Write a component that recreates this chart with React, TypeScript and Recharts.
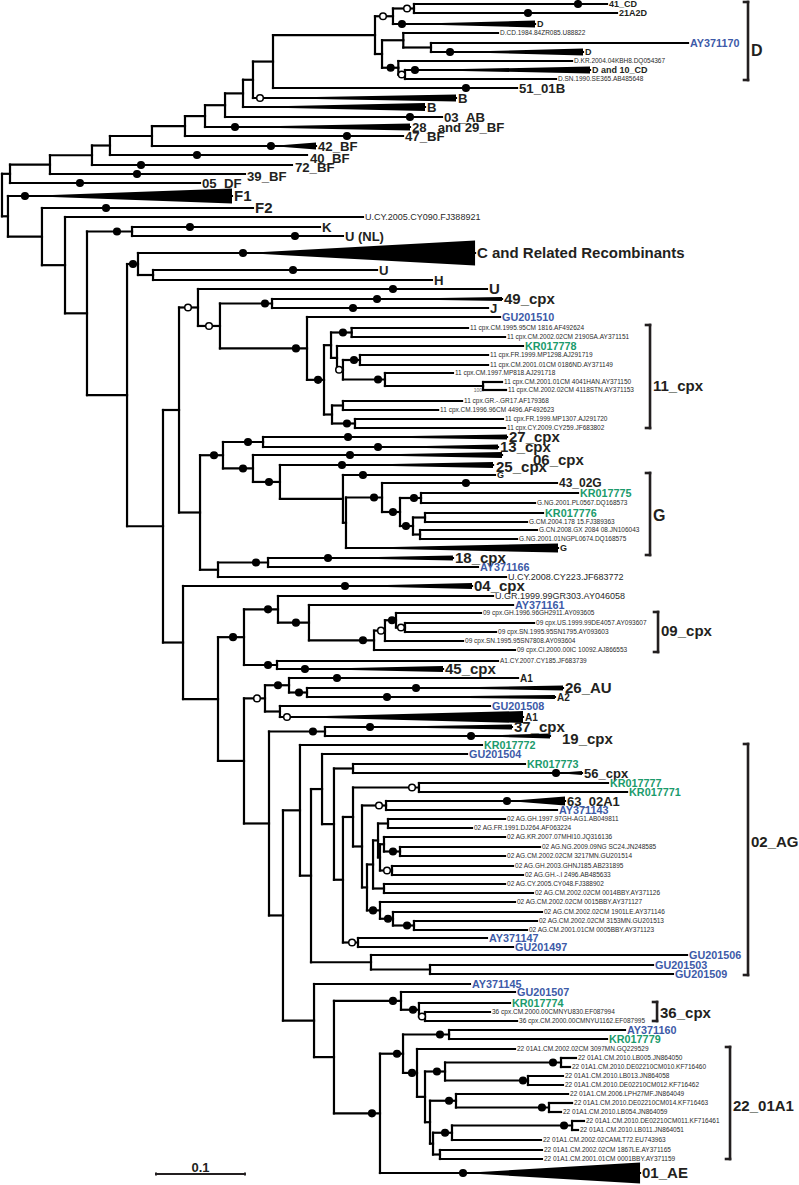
import React from 'react';
import { ScatterChart, XAxis, YAxis, Scatter, ReferenceLine, ReferenceArea } from 'recharts';

// Branch depths are in 10^-3 substitutions/site (scale bar 0.1 = 100). Rows are tip positions.
// Internal nodes: [id, parent, depth, support marker depth, marker type f=filled o=open]
const internalNodes: [string, string, number, number | null, string][] = [
  ['R', '', 0, null, ''],
  ['n10', 'R', 9.0, null, ''],
  ['n50', 'n10', 53.9, null, ''],
  ['n92', 'n50', 101.1, null, ''],
  ['n110', 'n92', 121.3, null, ''],
  ['n152', 'n110', 168.5, null, ''],
  ['n185', 'n152', 205.6, null, ''],
  ['n205', 'n185', 228.1, null, ''],
  ['n225', 'n205', 250.6, null, ''],
  ['n243', 'n225', 270.8, null, ''],
  ['n253', 'n243', 282.0, null, ''],
  ['n273', 'n253', 304.5, null, ''],
  ['nD0', 'n273', 419.1, null, ''],
  ['nD1', 'nD0', 439.3, 428.1, 'o'],
  ['nD2', 'nD1', 462.9, 455.1, 'o'],
  ['nD3', 'nD0', 427.0, null, ''],
  ['nD4', 'nD3', 450.9, null, ''],
  ['nD5', 'nD4', 482.0, null, ''],
  ['nD6', 'nD3', 445.3, 436.7, 'f'],
  ['nD7', 'nD6', 452.8, 449.1, 'o'],
  ['n8', 'R', 6.7, null, ''],
  ['n42', 'n8', 44.9, null, ''],
  ['n65', 'n42', 70.8, null, ''],
  ['n87', 'n65', 95.5, null, ''],
  ['nK', 'n87', 146.1, 129.2, 'f'],
  ['n127', 'n87', 140.5, null, ''],
  ['n138', 'n127', 152.8, 147.2, 'f'],
  ['n153', 'n138', 169.7, null, ''],
  ['n163', 'n127', 180.9, null, ''],
  ['n179', 'n163', 198.9, null, ''],
  ['n198', 'n179', 220.2, 209.0, 'o'],
  ['n220', 'n198', 244.9, 232.6, 'o'],
  ['n272', 'n220', 303.4, 295.5, 'f'],
  ['n307', 'n220', 342.7, 330.3, 'f'],
  ['n324', 'n307', 361.8, 355.1, 'f'],
  ['n331', 'n324', 369.7, null, ''],
  ['n351', 'n331', 392.9, 383.1, 'f'],
  ['n337', 'n331', 376.4, null, ''],
  ['n343a', 'n337', 383.1, 378.7, 'o'],
  ['n360', 'n343a', 402.2, 395.5, 'f'],
  ['n385', 'n343a', 430.3, 422.5, 'f'],
  ['n483', 'n385', 540.5, null, ''],
  ['n332', 'n324', 370.8, null, ''],
  ['n343b', 'n332', 383.1, null, ''],
  ['n355', 'n332', 396.6, 387.6, 'f'],
  ['n200', 'n179', 222.5, null, ''],
  ['n223', 'n200', 248.3, 238.2, 'f'],
  ['n263', 'n223', 293.3, 276.4, 'f'],
  ['n253b', 'n223', 282.0, 270.8, 'f'],
  ['n280', 'n253b', 312.3, 300.0, 'f'],
  ['nG0', 'n280', 383.1, null, ''],
  ['nG1', 'nG0', 386.5, null, ''],
  ['nG2', 'nG1', 427.0, 418.0, 'f'],
  ['nG3', 'nG2', 447.2, 439.3, 'f'],
  ['nG4', 'nG3', 470.8, 462.9, 'f'],
  ['nG5', 'nG3', 461.8, 453.9, 'f'],
  ['nG6', 'nG5', 475.3, null, ''],
  ['nG7', 'nG5', 469.7, null, ''],
  ['n218a', 'n200', 242.7, null, ''],
  ['n268', 'n218a', 298.9, 285.4, 'f'],
  ['n183', 'n163', 203.4, null, ''],
  ['n218b', 'n183', 242.7, null, ''],
  ['n245', 'n218b', 271.9, 259.6, 'f'],
  ['n278', 'n245', 310.1, 298.9, 'f'],
  ['n309', 'n278', 344.9, 330.3, 'f'],
  ['n374', 'n309', 418.0, 405.6, 'f'],
  ['n385b', 'n374', 430.3, 425.8, 'o'],
  ['n396', 'n385b', 442.7, 438.2, 'f'],
  ['n405', 'n396', 452.8, 448.3, 'o'],
  ['n277', 'n245', 309.0, 298.9, 'f'],
  ['n244', 'n218b', 271.9, null, ''],
  ['n266', 'n244', 295.5, 286.5, 'o'],
  ['n289', 'n266', 322.5, 310.1, 'f'],
  ['n307b', 'n289', 342.7, 333.7, 'f'],
  ['n280b', 'n266', 312.3, null, ''],
  ['n269', 'n244', 300.0, null, ''],
  ['n325', 'n269', 362.9, 349.4, 'f'],
  ['n283', 'n269', 315.7, null, ''],
  ['n300', 'n283', 334.8, null, ''],
  ['n311', 'n300', 347.2, null, ''],
  ['n322', 'n311', 359.6, null, ''],
  ['n334', 'n322', 373.0, null, ''],
  ['n353a', 'n334', 394.4, null, ''],
  ['n343c', 'n334', 383.1, null, ''],
  ['n353b', 'n343c', 394.4, null, ''],
  ['n419', 'n353b', 468.5, 460.7, 'o'],
  ['n362', 'n353b', 404.5, null, ''],
  ['n386', 'n362', 431.5, 423.6, 'o'],
  ['n367', 'n362', 410.1, null, ''],
  ['n373', 'n367', 416.9, null, ''],
  ['n378', 'n373', 422.5, null, ''],
  ['n388', 'n378', 433.7, null, ''],
  ['n380c', 'n378', 424.7, null, ''],
  ['n384a', 'n380c', 429.2, null, ''],
  ['n400', 'n384a', 447.2, 439.3, 'f'],
  ['n392', 'n380c', 438.2, 432.6, 'o'],
  ['n384b', 'n373', 429.2, null, ''],
  ['n380d', 'n367', 424.7, 416.9, 'f'],
  ['n393', 'n380d', 439.3, 433.7, 'f'],
  ['n414', 'n393', 462.9, 455.1, 'f'],
  ['n358', 'n343c', 400.0, 393.3, 'o'],
  ['n371', 'n311', 414.6, null, ''],
  ['n430', 'n371', 480.9, null, ''],
  ['n314', 'n283', 350.6, null, ''],
  ['n334b', 'n314', 373.0, null, ''],
  ['n401', 'n334b', 448.3, 439.3, 'f'],
  ['n419b', 'n401', 468.5, 461.8, 'f'],
  ['n425', 'n419b', 475.3, 471.9, 'o'],
  ['n380e', 'n334b', 424.7, 415.7, 'f'],
  ['n403', 'n380e', 450.6, 443.8, 'f'],
  ['n449', 'n403', 502.3, 492.1, 'f'],
  ['n417', 'n403', 466.3, 460.7, 'f'],
  ['n425b', 'n417', 475.3, null, ''],
  ['n445', 'n425b', 497.8, 488.7, 'f'],
  ['n561', 'n445', 628.1, 619.1, 'f'],
  ['n528', 'n445', 591.0, 585.4, 'f'],
  ['n430b', 'n425b', 480.9, null, ''],
  ['n456', 'n430b', 510.1, 502.3, 'f'],
  ['n549', 'n456', 614.6, 606.7, 'f'],
  ['n433', 'n430b', 484.3, null, ''],
  ['n452', 'n433', 505.6, 497.8, 'f'],
  ['n572', 'n452', 640.5, 631.5, 'f'],
  ['n440', 'n433', 492.1, null, ''],
];

// Tips: [label, parent, row, tip depth, marker depth, marker type, collapsed-clade start, clade half height (rows), label style]
const tips: [string, string, number, number, number | null, string, number | null, number, string][] = [
  ['41_CD', 'nD2', 4, 679.8, 647.2, 'f', null, 0, 'xxs'],
  ['21A2D', 'nD2', 13, 691.0, 591.0, 'f', null, 0, 'xxs'],
  ['D', 'nD1', 24, 598.9, 449.4, 'f', 449.4, 3.5, 'xxs'],
  ['D.CD.1984.84ZR085.U88822', 'nD4', 33, 557.3, null, '', null, 0, 'q'],
  ['AY371170', 'nD5', 43, 770.8, null, '', null, 0, 'b'],
  ['D', 'nD5', 52, 652.8, 503.4, 'f', 503.4, 3.5, 'xxs'],
  ['D.KR.2004.04KBH8.DQ054367', 'nD6', 61, 640.5, null, '', null, 0, 'q'],
  ['D and 10_CD', 'nD7', 70, 660.7, 464.0, 'f', 464.0, 3.5, 'xxs'],
  ['D.SN.1990.SE365.AB485648', 'nD7', 79, 622.5, null, '', null, 0, 'q'],
  ['51_01B', 'n273', 88, 578.7, 521.3, 'f', null, 0, 'l'],
  ['B', 'n253', 98, 510.1, 289.9, 'o', 289.9, 3.5, 'l'],
  ['B', 'n243', 107, 475.3, null, '', 270.8, 4, 'l'],
  ['03_AB', 'n225', 117, 494.4, 458.4, 'f', null, 0, 'l'],
  ['28_ and 29_BF', 'n205', 127, 458.4, 261.8, 'f', 261.8, 3.5, 'l'],
  ['47_BF', 'n185', 136, 450.6, 387.6, 'f', null, 0, 'l'],
  ['42_BF', 'n152', 146, 352.8, 302.2, 'f', 302.2, 3.5, 'l'],
  ['40_BF', 'n110', 155, 342.7, 219.1, 'f', null, 0, 'l'],
  ['72_BF', 'n92', 165, 325.8, 156.2, 'f', null, 0, 'l'],
  ['39_BF', 'n50', 174, 273.0, 151.7, 'f', null, 0, 'l'],
  ['05_DF', 'n10', 183, 222.5, 87.6, 'f', null, 0, 'l'],
  ['F1', 'n8', 196, 258.4, 25.8, 'f', 25.8, 7.5, 'xl'],
  ['F2', 'n42', 208, 282.0, 116.9, 'f', null, 0, 'xl'],
  ['U.CY.2005.CY090.FJ388921', 'n65', 217, 405.6, null, '', null, 0, 'u'],
  ['K', 'nK', 227, 357.3, 211.2, 'f', null, 0, 'l'],
  ['U (NL)', 'nK', 236, 383.1, 329.2, 'f', null, 0, 'm'],
  ['C and Related Recombinants', 'n138', 253, 531.5, 270.8, 'f', 270.8, 12.5, 'xl'],
  ['U', 'n153', 270, 421.4, 327.0, 'f', null, 0, 'l'],
  ['H', 'n153', 280, 483.1, null, '', null, 0, 'l'],
  ['U', 'n198', 289, 544.9, 439.3, 'f', null, 0, 'xl'],
  ['49_cpx', 'n272', 299, 561.8, 421.4, 'f', 421.4, 2, 'xl'],
  ['J', 'n272', 308, 546.1, 394.4, 'f', null, 0, 'l'],
  ['GU201510', 'n307', 317, 559.6, null, '', null, 0, 'b'],
  ['11 cpx.CM.1995.95CM 1816.AF492624', 'n351', 328, 523.6, null, '', null, 0, 'q'],
  ['11 cpx.CM.2002.02CM 2190SA.AY371151', 'n351', 337, 565.2, null, '', null, 0, 'q'],
  ['KR017778', 'n337', 346, 585.4, null, '', null, 0, 'g'],
  ['11 cpx.FR.1999.MP1298.AJ291719', 'n360', 355, 546.1, null, '', null, 0, 'q'],
  ['11 cpx.CM.2001.01CM 0186ND.AY371149', 'n360', 365, 546.1, null, '', null, 0, 'q'],
  ['11 cpx.CM.1997.MP818.AJ291718', 'n385', 373, 506.7, null, '', null, 0, 'q'],
  ['11 cpx.CM.2001.01CM 4041HAN.AY371150', 'n483', 382, 561.8, null, '', null, 0, 'q'],
  ['11 cpx.CM.2002.02CM 4118STN.AY371153', 'n483', 390, 566.3, null, '', null, 0, 'q'],
  ['11 cpx.GR.-.GR17.AF179368', 'n343b', 401, 516.9, null, '', null, 0, 'q'],
  ['11 cpx.CM.1996.96CM 4496.AF492623', 'n343b', 410, 490.0, null, '', null, 0, 'q'],
  ['11 cpx.FR.1999.MP1307.AJ291720', 'n355', 419, 562.9, null, '', null, 0, 'q'],
  ['11 cpx.CY.2009.CY259.JF683802', 'n355', 428, 565.2, null, '', null, 0, 'q'],
  ['27_cpx', 'n263', 437, 567.4, 388.8, 'f', 388.8, 2.5, 'xl'],
  ['13_cpx', 'n263', 447, 557.3, 422.5, 'f', 422.5, 2.5, 'xl'],
  ['06_cpx', 'n253b', 455, 561.8, 391.0, 'f', 391.0, 3, 'xl'],
  ['25_cpx', 'n280', 465, 551.7, 382.0, 'f', 382.0, 3, 'xl'],
  ['G', 'nG0', 475, 553.9, 405.6, 'f', null, 0, 'xxs'],
  ['43_02G', 'nG2', 483, 623.6, 521.3, 'f', null, 0, 's'],
  ['KR017775', 'nG4', 493, 647.2, null, '', null, 0, 'g'],
  ['G.NG.2001.PL0567.DQ168573', 'nG4', 503, 598.9, null, '', null, 0, 'q'],
  ['KR017776', 'nG6', 513, 607.9, null, '', null, 0, 'g'],
  ['G.CM.2004.178 15.FJ389363', 'nG6', 522, 589.9, null, '', null, 0, 'q'],
  ['G.CN.2008.GX 2084 08.JN106043', 'nG7', 530, 601.1, null, '', null, 0, 'q'],
  ['G.NG.2001.01NGPL0674.DQ168575', 'nG7', 539, 578.7, null, '', null, 0, 'q'],
  ['G', 'nG1', 548, 624.7, null, '', 386.5, 4.5, 'xxs'],
  ['18_cpx', 'n268', 558, 506.7, 366.3, 'f', 366.3, 2.5, 'xl'],
  ['AY371166', 'n268', 567, 534.8, null, '', null, 0, 'b'],
  ['U.CY.2008.CY223.JF683772', 'n218a', 577, 566.3, null, '', null, 0, 'u'],
  ['04_cpx', 'n183', 586, 528.1, 385.4, 'f', 385.4, 3, 'xl'],
  ['U.GR.1999.99GR303.AY046058', 'n278', 596, 551.7, null, '', null, 0, 'u'],
  ['AY371161', 'n309', 605, 574.2, null, '', null, 0, 'b'],
  ['09 cpx.GH.1996.96GH2911.AY093605', 'n396', 613, 538.2, null, '', null, 0, 'q'],
  ['09 cpx.US.1999.99DE4057.AY093607', 'n405', 623, 597.8, null, '', null, 0, 'q'],
  ['09 cpx.SN.1995.95SN1795.AY093603', 'n405', 632, 555.1, null, '', null, 0, 'q'],
  ['09 cpx.SN.1995.95SN7808.AY093604', 'n385b', 641, 518.0, null, '', null, 0, 'q'],
  ['09 cpx.CI.2000.00IC 10092.AJ866553', 'n374', 650, 576.4, null, '', null, 0, 'q'],
  ['A1.CY.2007.CY185.JF683739', 'n277', 661, 557.3, null, '', null, 0, 'q'],
  ['45_cpx', 'n277', 669, 495.5, 340.4, 'f', 340.4, 3, 'xl'],
  ['A1', 'n289', 678, 579.8, 376.4, 'f', null, 0, 'xs'],
  ['26_AU', 'n307b', 688, 630.3, 465.2, 'f', 465.2, 2.5, 'xl'],
  ['A2', 'n307b', 697, 621.3, 432.6, 'f', 432.6, 2, 'xs'],
  ['GU201508', 'n280b', 706, 548.3, null, '', null, 0, 'b'],
  ['A1', 'n280b', 717, 585.4, 320.2, 'o', 320.2, 6, 'xs'],
  ['37_cpx', 'n325', 727, 573.0, 413.5, 'f', 413.5, 2.5, 'xl'],
  ['19_cpx', 'n325', 736, 615.7, 527.0, 'f', 527.0, 2.5, 'xl'],
  ['KR017772', 'n300', 745, 539.3, null, '', null, 0, 'g'],
  ['GU201504', 'n322', 754, 522.5, null, '', null, 0, 'b'],
  ['KR017773', 'n353a', 764, 587.6, null, '', null, 0, 'g'],
  ['56_cpx', 'n353a', 773, 651.7, 622.5, 'f', 622.5, 2, 'm'],
  ['KR017777', 'n419', 783, 680.9, null, '', null, 0, 'g'],
  ['KR017771', 'n419', 792, 702.3, null, '', null, 0, 'g'],
  ['63_02A1', 'n386', 801, 632.6, 567.4, 'f', 567.4, 4.5, 'm'],
  ['AY371143', 'n386', 810, 623.6, null, '', null, 0, 'b'],
  ['02 AG.GH.1997.97GH-AG1.AB049811', 'n388', 819, 565.2, null, '', null, 0, 'q'],
  ['02 AG.FR.1991.DJ264.AF063224', 'n388', 828, 528.1, null, '', null, 0, 'q'],
  ['02 AG.KR.2007.07MHI10.JQ316136', 'n384a', 837, 565.2, null, '', null, 0, 'q'],
  ['02 AG.NG.2009.09NG SC24.JN248585', 'n400', 847, 604.5, null, '', null, 0, 'q'],
  ['02 AG.CM.2002.02CM 3217MN.GU201514', 'n400', 856, 565.2, null, '', null, 0, 'q'],
  ['02 AG.GH.2003.GHNJ185.AB231895', 'n392', 866, 574.2, null, '', null, 0, 'q'],
  ['02 AG.GH.-.I 2496.AB485633', 'n392', 875, 585.4, null, '', null, 0, 'q'],
  ['02 AG.CY.2005.CY048.FJ388902', 'n384b', 884, 565.2, null, '', null, 0, 'q'],
  ['02 AG.CM.2002.02CM 0014BBY.AY371126', 'n384b', 893, 596.6, null, '', null, 0, 'q'],
  ['02 AG.CM.2002.02CM 0015BBY.AY371127', 'n380d', 902, 576.4, null, '', null, 0, 'q'],
  ['02 AG.CM.2002.02CM 1901LE.AY371146', 'n393', 912, 606.7, null, '', null, 0, 'q'],
  ['02 AG.CM.2002.02CM 3153MN.GU201513', 'n414', 921, 601.1, null, '', null, 0, 'q'],
  ['02 AG.CM.2001.01CM 0005BBY.AY371123', 'n414', 930, 589.9, null, '', null, 0, 'q'],
  ['AY371147', 'n358', 938, 544.9, null, '', null, 0, 'b'],
  ['GU201497', 'n358', 947, 574.2, null, '', null, 0, 'b'],
  ['GU201506', 'n371', 955, 769.7, null, '', null, 0, 'b'],
  ['GU201503', 'n430', 965, 731.5, null, '', null, 0, 'b'],
  ['GU201509', 'n430', 974, 753.9, null, '', null, 0, 'b'],
  ['AY371145', 'n314', 984, 525.8, null, '', null, 0, 'b'],
  ['GU201507', 'n401', 992, 576.4, null, '', null, 0, 'b'],
  ['KR017774', 'n419b', 1003, 570.8, null, '', null, 0, 'g'],
  ['36 cpx.CM.2000.00CMNYU830.EF087994', 'n425', 1012, 548.3, null, '', null, 0, 'q'],
  ['36 cpx.CM.2000.00CMNYU1162.EF087995', 'n425', 1021, 578.7, null, '', null, 0, 'q'],
  ['AY371160', 'n449', 1030, 700.0, null, '', null, 0, 'b'],
  ['KR017779', 'n449', 1039, 679.8, null, '', null, 0, 'g'],
  ['22 01A1.CM.2002.02CM 3097MN.GQ229529', 'n417', 1049, 576.4, null, '', null, 0, 'q'],
  ['22 01A1.CM.2010.LB005.JN864050', 'n561', 1058, 644.9, null, '', null, 0, 'q'],
  ['22 01A1.CM.2010.DE02210CM010.KF716460', 'n561', 1067, 638.2, null, '', null, 0, 'q'],
  ['22 01A1.CM.2010.LB013.JN864058', 'n528', 1076, 630.3, null, '', null, 0, 'q'],
  ['22 01A1.CM.2010.DE02210CM012.KF716462', 'n528', 1085, 630.3, null, '', null, 0, 'q'],
  ['22 01A1.CM.2006.LPH27MF.JN864049', 'n456', 1094, 636.0, null, '', null, 0, 'q'],
  ['22 01A1.CM.2010.DE02210CM014.KF716463', 'n549', 1103, 640.5, null, '', null, 0, 'q'],
  ['22 01A1.CM.2010.LB054.JN864059', 'n549', 1112, 628.1, null, '', null, 0, 'q'],
  ['22 01A1.CM.2010.DE02210CM011.KF716461', 'n572', 1121, 653.9, null, '', null, 0, 'q'],
  ['22 01A1.CM.2010.LB011.JN864051', 'n572', 1130, 647.2, null, '', null, 0, 'q'],
  ['22 01A1.CM.2002.02CAMLT72.EU743963', 'n452', 1140, 605.6, null, '', null, 0, 'q'],
  ['22 01A1.CM.2002.02CM 1867LE.AY371165', 'n440', 1150, 606.7, null, '', null, 0, 'q'],
  ['22 01A1.CM.2001.01CM 0001BBY.AY371159', 'n440', 1159, 606.7, null, '', null, 0, 'q'],
  ['01_AE', 'n380e', 1173, 716.9, 518.0, 'f', 518.0, 10.5, 'xl'],
];

// Clade brackets: [label, depth, top row, bottom row, label row, label style]
const brackets: [string, number, number, number, number, string][] = [
  ['D', 838.2, 2, 80, 50, 'brl'],
  ['11_cpx', 728.1, 325, 428, 386, 'br'],
  ['G', 728.1, 473, 555, 515, 'brl'],
  ['09_cpx', 737.1, 612, 652, 631, 'br'],
  ['02_AG', 838.2, 744, 975, 842, 'br'],
  ['36_cpx', 736.0, 1002, 1021, 1013, 'br'],
  ['22_01A1', 818.0, 1047, 1159, 1106, 'br'],
];

// Scale bar: [from depth, to depth, row, label]
const scaleBar: [number, number, number, string] = [173.0, 273.0, 1174, '0.1'];
// Bootstrap annotation: [text, depth, row]
const annotations: [string, number, number][] = [['100', 540.5, 390]];

const FONT = '"Liberation Sans", Arial, Helvetica, sans-serif';
const TEXT_STYLES: Record<string, { size: number; weight: number; color: string }> = {
  xl: { size: 15, weight: 700, color: '#231f20' },
  l: { size: 13.2, weight: 700, color: '#231f20' },
  m: { size: 13, weight: 700, color: '#231f20' },
  s: { size: 12, weight: 700, color: '#231f20' },
  xs: { size: 10, weight: 700, color: '#231f20' },
  xxs: { size: 9, weight: 700, color: '#231f20' },
  b: { size: 10.8, weight: 700, color: '#3d5aa8' },
  g: { size: 10.8, weight: 700, color: '#1b9b6c' },
  u: { size: 9, weight: 400, color: '#2a2a2a' },
  q: { size: 6.5, weight: 400, color: '#2a2a2a' },
  br: { size: 15, weight: 700, color: '#231f20' },
  brl: { size: 16, weight: 700, color: '#231f20' },
  sc: { size: 13, weight: 700, color: '#231f20' },
  tiny: { size: 5, weight: 400, color: '#666666' },
};
const LABEL_NUDGE: Record<string, [number, number]> = {
  '06_cpx': [31, 5],
  '19_cpx': [12, 3],
  '40_BF': [3, 3],
  '72_BF': [3, 2],
  '25_cpx': [3, 2],
  '39_BF': [2, 2],
};

// ---------- tree layout from the arrays ----------
const depthOf: Record<string, number> = {};
const kids: Record<string, string[]> = {};
internalNodes.forEach(([id, p, d]) => {
  depthOf[id] = d;
  if (p) (kids[p] = kids[p] || []).push(id);
});
const tipRow: Record<string, number> = {};
tips.forEach((t, i) => {
  const id = 't' + i;
  depthOf[id] = t[3];
  tipRow[id] = t[2];
  (kids[t[1]] = kids[t[1]] || []).push(id);
});
const rowCache: Record<string, number> = {};
function rowOf(id: string): number {
  if (id in tipRow) return tipRow[id];
  if (id in rowCache) return rowCache[id];
  const rs = (kids[id] || []).map(rowOf);
  const r = (Math.min(...rs) + Math.max(...rs)) / 2;
  rowCache[id] = r;
  return r;
}

type Seg = { x1: number; y1: number; x2: number; y2: number };
const segments: Seg[] = [];
internalNodes.forEach(([id, p, d]) => {
  const rs = (kids[id] || []).map(rowOf);
  segments.push({ x1: d, y1: Math.min(...rs), x2: d, y2: Math.max(...rs) });
  if (p) segments.push({ x1: depthOf[p], y1: rowOf(id), x2: d, y2: rowOf(id) });
});
tips.forEach((t) => {
  segments.push({ x1: depthOf[t[1]], y1: t[2], x2: t[3], y2: t[2] });
});
const bracketSegs: Seg[] = [];
brackets.forEach(([, d, top, bot]) => {
  bracketSegs.push({ x1: d, y1: top, x2: d, y2: bot });
  bracketSegs.push({ x1: d - 4.5, y1: top, x2: d, y2: top });
  bracketSegs.push({ x1: d - 4.5, y1: bot, x2: d, y2: bot });
});
const scaleSegs: Seg[] = [
  { x1: scaleBar[0], y1: scaleBar[2], x2: scaleBar[1], y2: scaleBar[2] },
  { x1: scaleBar[0], y1: scaleBar[2] - 1.5, x2: scaleBar[0], y2: scaleBar[2] + 1.5 },
  { x1: scaleBar[1], y1: scaleBar[2] - 1.5, x2: scaleBar[1], y2: scaleBar[2] + 1.5 },
];

const triangles = tips
  .filter((t) => t[7] > 0)
  .map((t) => ({ x1: t[6] as number, x2: t[3], y1: t[2] - t[7], y2: t[2] + t[7] }));

const dotData: { x: number; y: number; open: boolean }[] = [];
internalNodes.forEach(([id, , , md, mt]) => {
  if (md !== null) dotData.push({ x: md, y: rowOf(id), open: mt === 'o' });
});
tips.forEach((t) => {
  if (t[4] !== null) dotData.push({ x: t[4] as number, y: t[2], open: t[5] === 'o' });
});

const labelData: any[] = tips.map((t) => {
  const n = LABEL_NUDGE[t[0]] || [2, 0];
  return { x: t[3], y: t[2], text: t[0], style: t[8], dx: n[0], dy: n[1], anchor: 'start' };
});
brackets.forEach(([lab, d, , , lr, st]) => {
  labelData.push({ x: d, y: lr, text: lab, style: st, dx: 3, dy: 0, anchor: 'start' });
});
labelData.push({ x: (scaleBar[0] + scaleBar[1]) / 2, y: scaleBar[2] - 7, text: scaleBar[3], style: 'sc', dx: 0, dy: 0, anchor: 'middle' });
annotations.forEach(([txt, d, r]) => {
  labelData.push({ x: d, y: r, text: txt, style: 'tiny', dx: -1, dy: 0, anchor: 'end' });
});

const TriShape = (p: any) => {
  const { x, y, width, height } = p;
  return <polygon points={`${x},${y + height / 2} ${x + width},${y} ${x + width},${y + height}`} fill="#000" stroke="none" />;
};
const DotShape = (p: any) => (
  <circle cx={p.cx} cy={p.cy} r={3.3} fill={p.payload.open ? '#fff' : '#000'} stroke="#000" strokeWidth={1.5} />
);
const LabelShape = (p: any) => {
  const d = p.payload;
  const st = TEXT_STYLES[d.style];
  return (
    <text
      x={p.cx + d.dx}
      y={p.cy + d.dy}
      dy="0.36em"
      fontSize={st.size}
      fontWeight={st.weight}
      fill={st.color}
      fontFamily={FONT}
      textAnchor={d.anchor}
    >
      {d.text}
    </text>
  );
};

export default function App() {
  return (
    <div style={{ position: 'absolute', left: 0, top: 0, width: 799, height: 1185, background: '#fff' }}>
      <ScatterChart width={799} height={1185} margin={{ top: 0, right: 0, bottom: 0, left: 0 }}>
        <XAxis type="number" dataKey="x" domain={[-2.247, 895.5]} hide allowDataOverflow />
        <YAxis type="number" dataKey="y" domain={[0, 1185]} reversed hide allowDataOverflow />
        {triangles.map((t, i) => (
          <ReferenceArea key={'tri' + i} x1={t.x1} x2={t.x2} y1={t.y1} y2={t.y2} shape={TriShape} ifOverflow="visible" />
        ))}
        {segments.map((s, i) => (
          <ReferenceLine
            key={'e' + i}
            segment={[{ x: s.x1, y: s.y1 }, { x: s.x2, y: s.y2 }]}
            stroke="#000"
            strokeWidth={2.2}
            strokeLinecap="square"
            ifOverflow="visible"
          />
        ))}
        {bracketSegs.map((s, i) => (
          <ReferenceLine
            key={'b' + i}
            segment={[{ x: s.x1, y: s.y1 }, { x: s.x2, y: s.y2 }]}
            stroke="#231f20"
            strokeWidth={2.6}
            strokeLinecap="square"
            ifOverflow="visible"
          />
        ))}
        {scaleSegs.map((s, i) => (
          <ReferenceLine
            key={'s' + i}
            segment={[{ x: s.x1, y: s.y1 }, { x: s.x2, y: s.y2 }]}
            stroke="#231f20"
            strokeWidth={2}
            ifOverflow="visible"
          />
        ))}
        <Scatter data={dotData} shape={DotShape} isAnimationActive={false} />
        <Scatter data={labelData} shape={LabelShape} isAnimationActive={false} />
      </ScatterChart>
    </div>
  );
}
